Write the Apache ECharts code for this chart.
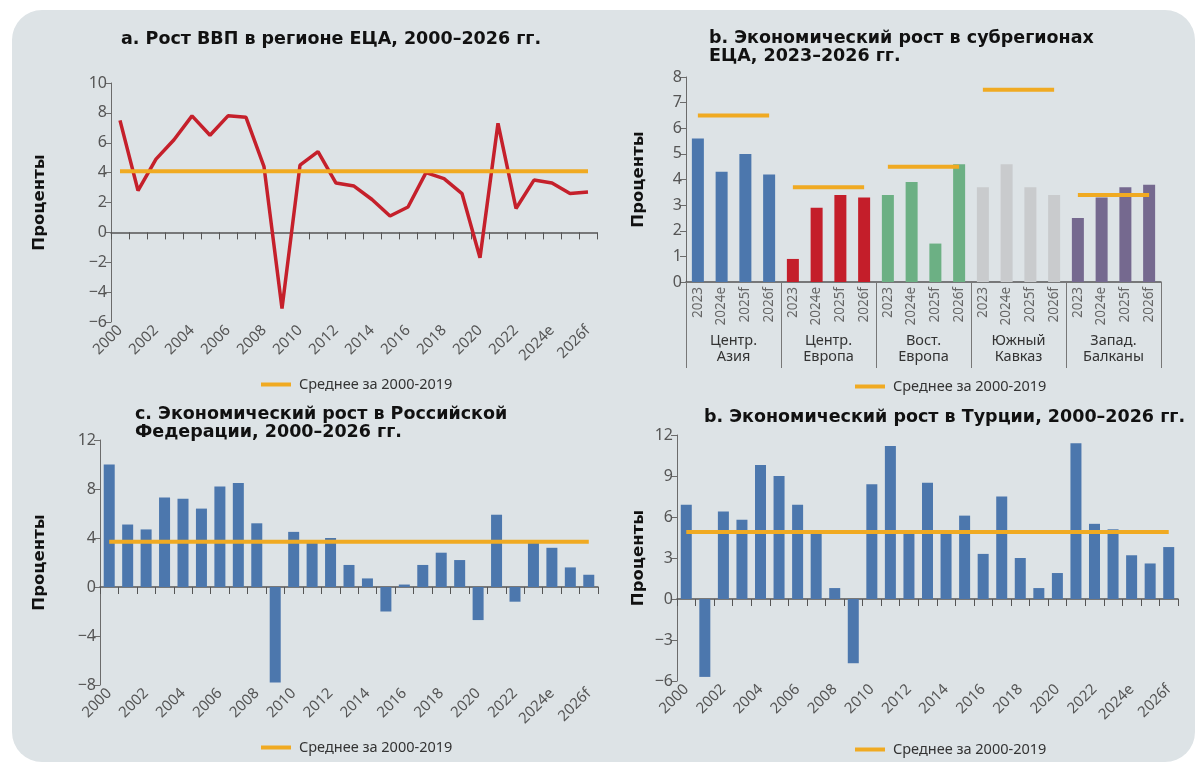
<!DOCTYPE html>
<html>
<head>
<meta charset="utf-8">
<script src="https://cdn.jsdelivr.net/npm/echarts@6.0.0/dist/echarts.min.js"></script>
<style>
  html, body { margin: 0; padding: 0; background: #fff; }
  .card { position: absolute; left: 12px; top: 10px; width: 1183px; height: 752px; border-radius: 30px; background: #dde3e6; }
  #chart { position: absolute; left: 0; top: 0; width: 1202px; height: 767px; }
</style>
</head>
<body>
<div class="card"></div>
<div id="chart"></div>
<script>
  // data
  const years = ['2000', '2001', '2002', '2003', '2004', '2005', '2006', '2007', '2008', '2009',
    '2010', '2011', '2012', '2013', '2014', '2015', '2016', '2017', '2018', '2019',
    '2020', '2021', '2022', '2023', '2024e', '2025f', '2026f'];
  const ecaGrowth = [7.5, 2.8, 4.9, 6.2, 7.8, 6.5, 7.8, 7.7, 4.4, -5.1,
    4.5, 5.4, 3.3, 3.1, 2.2, 1.1, 1.7, 4.0, 3.6, 2.6,
    -1.7, 7.3, 1.6, 3.5, 3.3, 2.6, 2.7];
  const ecaAvg = 4.1;

  const subYears = ['2023', '2024e', '2025f', '2026f'];
  const subregions = ['Центр.\nАзия', 'Центр.\nЕвропа', 'Вост.\nЕвропа', 'Южный\nКавказ', 'Запад.\nБалканы'];
  const subValues = [
    [5.6, 4.3, 5.0, 4.2],
    [0.9, 2.9, 3.4, 3.3],
    [3.4, 3.9, 1.5, 4.6],
    [3.7, 4.6, 3.7, 3.4],
    [2.5, 3.3, 3.7, 3.8]
  ];
  const subAvg = [6.5, 3.7, 4.5, 7.5, 3.4];

  const russiaGrowth = [10.0, 5.1, 4.7, 7.3, 7.2, 6.4, 8.2, 8.5, 5.2, -7.8,
    4.5, 3.6, 4.0, 1.8, 0.7, -2.0, 0.2, 1.8, 2.8, 2.2,
    -2.7, 5.9, -1.2, 3.6, 3.2, 1.6, 1.0];
  const russiaAvg = 3.7;

  const turkeyGrowth = [6.9, -5.7, 6.4, 5.8, 9.8, 9.0, 6.9, 4.8, 0.8, -4.7,
    8.4, 11.2, 4.8, 8.5, 4.9, 6.1, 3.3, 7.5, 3.0, 0.8,
    1.9, 11.4, 5.5, 5.1, 3.2, 2.6, 3.8];
  const turkeyAvg = 4.9;

  const subColors = ['#4c77ad', '#c41e2a', '#6cb084', '#c9cbcd', '#75698f'];
  const BLUE = '#4c77ad';
  const AVG_COLOR = '#f0aa22';
  const AVG_NAME = 'Среднее за 2000-2019';
  const FONT = 'Noto Sans';
  const HEAD_FONT = 'DejaVu Sans';
  const AXIS_COLOR = '#6b6b6b';
  const LABEL_COLOR = '#555';

  function minus(v) {
    return String(v).replace('-', '\u2212');
  }

  function valueAxis(grid, min, max, interval, nameGap) {
    return {
      type: 'value', gridIndex: grid, min: min, max: max, interval: interval,
      name: 'Проценты', nameLocation: 'middle', nameGap: nameGap,
      nameTextStyle: { fontFamily: HEAD_FONT, fontSize: 16.5, fontWeight: 'bold', color: '#111' },
      axisLine: { show: true, lineStyle: { color: AXIS_COLOR } },
      axisTick: { show: true, length: 6, lineStyle: { color: AXIS_COLOR } },
      axisLabel: { color: LABEL_COLOR, fontSize: 16, fontFamily: FONT, margin: 4, formatter: minus },
      splitLine: { show: false }
    };
  }

  // one axis on the zero line with ticks, one at the bottom with the labels
  function yearAxes(grid) {
    return [
      {
        type: 'category', gridIndex: grid, data: years, position: 'bottom',
        axisLine: { onZero: true, lineStyle: { color: '#555', width: 1.5 } },
        axisTick: { show: true, interval: 0, length: 7, lineStyle: { color: '#555' } },
        axisLabel: { show: false }
      },
      {
        type: 'category', gridIndex: grid, data: years, position: 'bottom',
        axisLine: { show: false, onZero: false }, axisTick: { show: false },
        axisLabel: { interval: 1, rotate: 45, color: LABEL_COLOR, fontSize: 15, fontFamily: FONT, margin: 6 }
      }
    ];
  }

  function avgLine(xi, yi, data) {
    return {
      name: AVG_NAME, type: 'line', xAxisIndex: xi, yAxisIndex: yi, data: data,
      symbol: 'none', silent: true, z: 5,
      lineStyle: { color: AVG_COLOR, width: 4 }, itemStyle: { color: AVG_COLOR }
    };
  }

  function legendAt(left, top) {
    return {
      left: left, top: top, data: [AVG_NAME], icon: 'rect', itemWidth: 30, itemHeight: 4,
      selectedMode: false,
      textStyle: { fontFamily: FONT, fontSize: 14.5, color: '#333', padding: [0, 0, 0, 3] }
    };
  }

  const subData = [];
  const subLabels = [];
  subValues.forEach(function (vals, g) {
    vals.forEach(function (v, i) {
      subData.push({ value: v, itemStyle: { color: subColors[g] } });
      subLabels.push(subYears[i]);
    });
  });

  const subAvgSeries = subAvg.map(function (a, g) {
    const d = subData.map(function (x, i) {
      return Math.floor(i / 4) === g ? a : null;
    });
    return avgLine(2, 1, d);
  });

  const titleStyle = { fontFamily: HEAD_FONT, fontSize: 17.5, fontWeight: 'bold', color: '#111', lineHeight: 18 };

  const option = {
    animation: false,
    title: [
      { left: 121, top: 30, padding: 0, text: 'a. Рост ВВП в регионе ЕЦА, 2000–2026 гг.', textStyle: titleStyle },
      { left: 709, top: 29, padding: 0, text: 'b. Экономический рост в субрегионах\nЕЦА, 2023–2026 гг.', textStyle: titleStyle },
      { left: 135, top: 405, padding: 0, text: 'c. Экономический рост в Российской\nФедерации, 2000–2026 гг.', textStyle: titleStyle },
      { left: 704, top: 408, padding: 0, text: 'b. Экономический рост в Турции, 2000–2026 гг.', textStyle: titleStyle }
    ],
    legend: [legendAt(256, 372), legendAt(850, 374), legendAt(256, 735), legendAt(850, 737)],
    grid: [
      { left: 111, top: 83, width: 486, height: 239 },
      { left: 686, top: 77, width: 475, height: 205 },
      { left: 100, top: 440, width: 498, height: 245 },
      { left: 677, top: 435, width: 501, height: 246 }
    ],
    xAxis: [].concat(
      yearAxes(0),
      [
        {
          type: 'category', gridIndex: 1, data: subLabels, position: 'bottom',
          axisLine: { lineStyle: { color: '#555', width: 1.5 } },
          axisTick: { show: false },
          axisLabel: { interval: 0, rotate: 90, color: '#666', fontSize: 13.5, fontFamily: FONT, margin: 5 }
        },
        {
          type: 'category', gridIndex: 1, data: subregions, position: 'bottom',
          axisLine: { show: false },
          axisTick: { show: true, interval: 0, length: 86, lineStyle: { color: '#777' } },
          axisLabel: { interval: 0, color: '#333', fontSize: 14.5, fontFamily: FONT, margin: 51, lineHeight: 16 }
        }
      ],
      yearAxes(2),
      yearAxes(3)
    ),
    yAxis: [
      valueAxis(0, -6, 10, 2, 63),
      valueAxis(1, 0, 8, 1, 39),
      valueAxis(2, -8, 12, 4, 52),
      valueAxis(3, -6, 12, 3, 30)
    ],
    series: [
      {
        type: 'line', xAxisIndex: 0, yAxisIndex: 0, data: ecaGrowth, symbol: 'none',
        lineStyle: { color: '#c5202b', width: 3.5 }
      },
      avgLine(0, 0, years.map(function () { return ecaAvg; })),
      {
        type: 'bar', xAxisIndex: 2, yAxisIndex: 1, data: subData, barWidth: 12
      }
    ].concat(subAvgSeries, [
      {
        type: 'bar', xAxisIndex: 4, yAxisIndex: 2, data: russiaGrowth, barWidth: 11,
        itemStyle: { color: BLUE }
      },
      avgLine(4, 2, years.map(function () { return russiaAvg; })),
      {
        type: 'bar', xAxisIndex: 6, yAxisIndex: 3, data: turkeyGrowth, barWidth: 11,
        itemStyle: { color: BLUE }
      },
      avgLine(6, 3, years.map(function () { return turkeyAvg; }))
    ])
  };

  const chart = echarts.init(document.getElementById('chart'));
  chart.setOption(option);
</script>
</body>
</html>
